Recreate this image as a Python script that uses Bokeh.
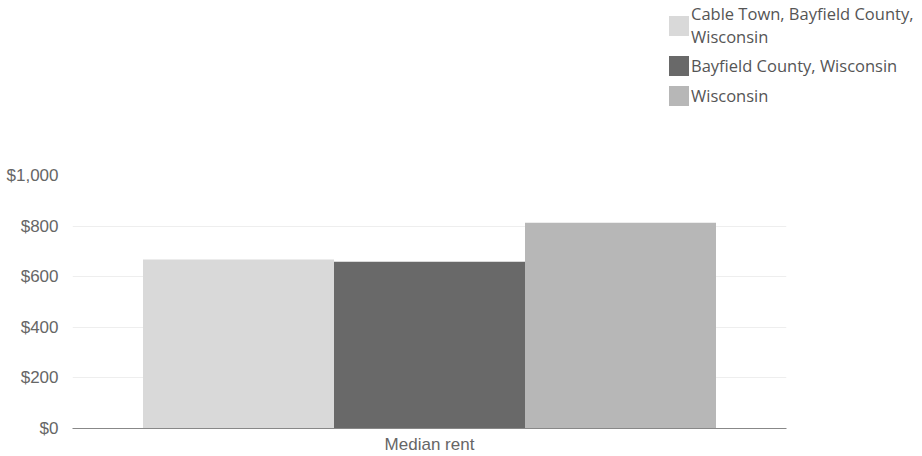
from bokeh.plotting import figure
from bokeh.models import ColumnDataSource, NumeralTickFormatter, Legend, LegendItem, FactorRange
from bokeh.layouts import column
from bokeh.transform import dodge
from bokeh.embed import file_html
from bokeh.resources import INLINE

categories = ["Median rent"]
series = ["Cable Town, Bayfield County,\nWisconsin", "Bayfield County, Wisconsin", "Wisconsin"]
colors = ["#d9d9d9", "#696969", "#b7b7b7"]
cable_town = [668]
bayfield = [659]
wisconsin = [813]

source = ColumnDataSource(data=dict(cat=categories, s0=cable_town, s1=bayfield, s2=wisconsin))

# legend strip
top = figure(frame_width=922, frame_height=165, x_range=(0, 1), y_range=(0, 1),
             output_backend="svg", toolbar_location=None,
             x_axis_type=None, y_axis_type=None,
             min_border=0, min_border_left=0, min_border_right=0,
             min_border_top=0, min_border_bottom=0)
top.outline_line_color = None
top.grid.grid_line_color = None
dummies = [top.vbar(x=[2], top=[0], bottom=[0], width=0.1, fill_color=c, line_color=None)
           for c in colors]
items = [LegendItem(label=series[i], renderers=[dummies[i]]) for i in range(3)]
legend = Legend(items=items, location=(666, 57), orientation="vertical",
                label_text_font="Open Sans", label_text_font_size="16.5px",
                label_text_line_height=1.45,
                label_text_color="#555555", glyph_width=25, glyph_height=25,
                label_standoff=0, spacing=5, padding=0, margin=0,
                border_line_color=None, background_fill_alpha=0)
top.add_layout(legend)

p = figure(width=922, height=291, x_range=FactorRange(*categories, range_padding=0),
           y_range=(0, 1000), output_backend="svg", toolbar_location=None,
           min_border_left=72, min_border_right=136, min_border_top=10, min_border_bottom=27)
p.outline_line_color = None
p.background_fill_color = "white"
p.border_fill_color = "white"

bw = 0.2675
offsets = [-bw, 0, bw]
for i, key in enumerate(["s0", "s1", "s2"]):
    p.vbar(x=dodge("cat", offsets[i], range=p.x_range), top=key, width=bw, bottom=0,
           source=source, fill_color=colors[i], line_color=None)

p.yaxis.formatter = NumeralTickFormatter(format="$0,0")
p.yaxis.ticker = [0, 200, 400, 600, 800, 1000]
p.yaxis.axis_line_color = None
p.yaxis.major_tick_line_color = None
p.yaxis.minor_tick_line_color = None
p.yaxis.major_label_text_font = "Liberation Sans"
p.yaxis.major_label_text_font_size = "17px"
p.yaxis.major_label_text_color = "#666666"
p.yaxis.major_label_standoff = 8

p.xaxis.axis_line_color = "#888888"
p.xaxis.major_tick_line_color = None
p.xaxis.minor_tick_line_color = None
p.xaxis.major_label_text_font = "Liberation Sans"
p.xaxis.major_label_text_font_size = "17px"
p.xaxis.major_label_text_color = "#666666"
p.xaxis.major_label_standoff = 0

p.xgrid.grid_line_color = None
p.ygrid.grid_line_color = "#eeeeee"

layout = column(top, p, spacing=0)
open("out.html", "w").write(file_html(layout, INLINE))
